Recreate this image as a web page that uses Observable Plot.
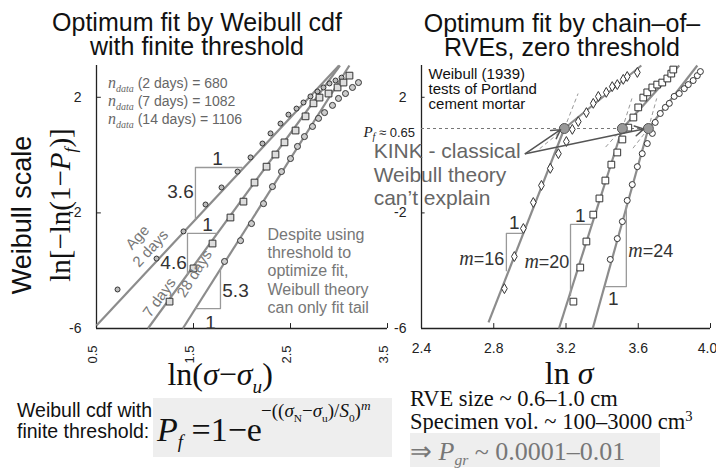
<!DOCTYPE html>
<html><head><meta charset="utf-8">
<script src="https://cdn.jsdelivr.net/npm/d3@7"></script>
<script src="https://cdn.jsdelivr.net/npm/@observablehq/plot@0.6"></script>
<style>
body{margin:0;background:#fff;}
#wrap{position:relative;width:716px;height:473px;overflow:hidden;font-family:"Liberation Sans",Arial,sans-serif;color:#111;}
#wrap svg{position:absolute;left:0;top:0;}
.abs{position:absolute;white-space:nowrap;line-height:1;}
.serif{font-family:"Liberation Serif","Times New Roman",serif;}
sub,sup{line-height:0;}
</style></head><body><div id="wrap"></div>
<script>
// ---------- data ----------
const leftXTicks = [0.5, 1.5, 2.5, 3.5];
const rightXTicks = [2.4, 2.8, 3.2, 3.6, 4.0];
const yTicks = [2, -2, -6];

const days2 = [[0.717,-4.65],[1.119,-3.58],[1.397,-2.64],[1.624,-1.71],[1.789,-1.12],[1.954,-0.57],[2.088,-0.08],[2.211,0.40],[2.294,0.75],[2.397,1.09],[2.479,1.40],[2.562,1.61],[2.634,1.82],[2.706,2.03],[2.778,2.20],[2.840,2.34],[2.902,2.48],[2.964,2.58],[3.026,2.68]];
const days7 = [[1.253,-5.07],[1.5,-3.92],[1.696,-3.06],[1.881,-2.16],[2.015,-1.61],[2.129,-0.95],[2.253,-0.40],[2.345,0.02],[2.438,0.44],[2.552,0.85],[2.655,1.34],[2.737,1.79],[2.799,1.99],[2.892,2.13],[2.985,2.34],[3.046,2.51],[3.108,2.75]];
const days28 = [[1.820,-3.68],[1.985,-2.96],[2.098,-2.37],[2.222,-1.68],[2.314,-1.09],[2.407,-0.57],[2.5,-0.12],[2.572,0.30],[2.644,0.64],[2.727,0.99],[2.789,1.27],[2.851,1.47],[2.933,1.72],[2.995,1.96],[3.067,2.13],[3.139,2.34],[3.201,2.51]];
const fitLeft = [
  {age:"2 days", x1:0.5, y1:-5.9, x2:3.0, y2:3.1},
  {age:"7 days", x1:1.03, y1:-6, x2:3.01, y2:3.1},
  {age:"28 days", x1:1.39, y1:-6, x2:3.107, y2:3.1}
];
const triLeft = [
  [[2.0,-0.43],[1.52,-0.43],[1.52,-2.2]],
  [[1.745,-2.71],[1.438,-2.71],[1.438,-4.12]],
  [[1.778,-3.94],[1.778,-5.31],[1.52,-5.31]]
];
const slopeLeft = [
  {x:1.747,y:-0.12,t:"1"},{x:1.366,y:-1.29,t:"3.6"},
  {x:1.644,y:-2.40,t:"1"},{x:1.294,y:-3.72,t:"4.6"},
  {x:1.933,y:-4.69,t:"5.3"},{x:1.675,y:-5.79,t:"1"}
];
const ageLabels = [
  {x:0.923,y:-2.85,t:"Age",r:-47},{x:1.057,y:-3.23,t:"2 days",r:-47},
  {x:1.149,y:-4.93,t:"7 days",r:-54},{x:1.510,y:-4.10,t:"28 days",r:-58}
];
const nData = [["2 days",680],["7 days",1082],["14 days",1106]];
const nDataY = [2.48, 1.85, 1.23];

const m16 = [[2.859,-4.62],[2.914,-3.51],[2.964,-2.54],[3.019,-1.64],[3.064,-1.05],[3.113,-0.46],[3.158,0.05],[3.202,0.47],[3.235,0.89],[3.268,1.16],[3.313,1.47],[3.351,1.79],[3.379,2.03],[3.423,2.17],[3.456,2.37],[3.484,2.44],[3.517,2.62],[3.539,2.72],[3.595,2.86]];
const m20 = [[3.241,-5.07],[3.279,-3.89],[3.313,-2.99],[3.351,-2.06],[3.385,-1.50],[3.418,-0.88],[3.451,-0.33],[3.484,0.09],[3.512,0.54],[3.545,0.95],[3.573,1.30],[3.600,1.65],[3.628,1.99],[3.650,2.17],[3.678,2.34],[3.705,2.44],[3.733,2.51],[3.761,2.65],[3.783,2.82],[3.794,2.96]];
const m24 = [[3.445,-3.61],[3.484,-2.89],[3.512,-2.30],[3.539,-1.57],[3.567,-1.02],[3.595,-0.40],[3.622,0.05],[3.650,0.40],[3.678,0.75],[3.694,1.13],[3.722,1.44],[3.750,1.65],[3.772,1.79],[3.799,2.03],[3.827,2.13],[3.855,2.30],[3.877,2.44],[3.904,2.58],[3.927,2.75],[3.944,2.89]];
const fitRight = [
  {x1:2.771,y1:-5.79,x2:3.191,y2:0.92},{x1:3.191,y1:0.92,x2:3.617,y2:3.1},
  {x1:3.161,y1:-6,x2:3.512,y2:0.92},{x1:3.512,y1:0.92,x2:3.827,y2:3.1},
  {x1:3.348,y1:-6,x2:3.656,y2:0.92},{x1:3.656,y1:0.92,x2:3.927,y2:3.1}
];
const dashRight = [
  {x1:3.191,y1:0.92,x2:3.267,y2:2.13},{x1:3.512,y1:0.92,x2:3.565,y2:1.96},{x1:3.656,y1:0.92,x2:3.702,y2:1.96},
  {x1:3.191,y1:0.92,x2:3.05,y2:0.2},{x1:3.512,y1:0.92,x2:3.408,y2:0.2},{x1:3.656,y1:0.92,x2:3.566,y2:0.2}
];
const kinks = [[3.191,0.92],[3.512,0.92],[3.656,0.92]];
const kinkLevel = 0.92;
const arrows = [{x1:2.975,y1:0.05,x2:3.17,y2:0.88},{x1:2.975,y1:0.05,x2:3.63,y2:0.90}];
const triRight = [
  [[2.964,-2.71],[2.870,-2.71],[2.870,-4.0]],
  [[3.343,-2.40],[3.225,-2.40],[3.225,-4.85]],
  [[3.534,-1.74],[3.534,-4.55],[3.413,-4.55]]
];
const slopeRight = [{x:2.914,y:-2.33,t:"1"},{x:3.279,y:-2.09,t:"1"},{x:3.462,y:-4.96,t:"1"}];
const mLabels = [{x:2.737,y:-3.58,m:16},{x:3.097,y:-3.68,m:20},{x:3.672,y:-3.30,m:24}];

// ---------- styles ----------
const AX = "#222", FIT = "#8c8c8c", TRI = "#999", PT = "#333";
const sans = "Liberation Sans, Arial, sans-serif";

function frame(xmin, ticks) {
  return [
    Plot.ruleX([xmin], {stroke: AX, strokeWidth: 1.3}),
    Plot.ruleY([-6], {stroke: AX, strokeWidth: 1.3}),
    Plot.ruleX(ticks, {x: d => d, y1: -6, y2: -5.83, stroke: AX}),
    Plot.ruleY(yTicks, {y: d => d, x1: xmin, x2: xmin + (ticks[1]-ticks[0]) * 0.05, stroke: AX})
  ];
}

const L = Plot.plot({
  width: 716, height: 473,
  marginLeft: 96, marginRight: 329, marginTop: 65, marginBottom: 145,
  x: {domain: [0.5, 3.5], axis: null},
  y: {domain: [-6, 3.1], axis: null},
  style: {background: "transparent", fontFamily: sans, overflow: "visible"},
  marks: [
    ...frame(0.5, leftXTicks),
    Plot.text(leftXTicks, {x: d => d, text: d => String(d), frameAnchor: "bottom", dy: 26, rotate: -90, fontSize: 13, fill: AX}),
    Plot.text(yTicks, {y: d => d, text: d => String(d), frameAnchor: "left", dx: -15, textAnchor: "end", fontSize: 14, fill: AX}),
    Plot.link(fitLeft, {x1: "x1", y1: "y1", x2: "x2", y2: "y2", stroke: FIT, strokeWidth: 2.2}),
    ...triLeft.map(t => Plot.line(t, {x: d => d[0], y: d => d[1], stroke: TRI, strokeWidth: 1.3, curve: "linear"})),
    Plot.dot(days2, {x: d => d[0], y: d => d[1], r: 2.5, stroke: PT, fill: "#bbb", strokeWidth: 1}),
    Plot.dot(days7, {x: d => d[0], y: d => d[1], symbol: "square", r: 3.8, stroke: PT, fill: "#ddd", strokeWidth: 1}),
    Plot.dot(days28, {x: d => d[0], y: d => d[1], r: 3, stroke: PT, fill: "#ccc", strokeWidth: 1}),
    Plot.text(slopeLeft, {x: "x", y: "y", text: "t", fontSize: 19, fill: "#333"}),
    Plot.text(ageLabels, {x: "x", y: "y", text: "t", rotate: d => d.r, fontSize: 15, fill: "#777"}),
    Plot.text(["Despite using\nthreshold to\noptimize fit,\nWeibull theory\ncan only fit tail"], {x: 2.263, y: -2.47, text: d => d, textAnchor: "start", lineAnchor: "top", lineHeight: 1.15, fontSize: 16, fill: "#777"})
  ]
});

const R = Plot.plot({
  width: 716, height: 473,
  marginLeft: 421, marginRight: 6, marginTop: 65, marginBottom: 145,
  x: {domain: [2.4, 4.0], axis: null},
  y: {domain: [-6, 3.1], axis: null},
  style: {background: "transparent", fontFamily: sans, overflow: "visible"},
  marks: [
    ...frame(2.4, rightXTicks),
    Plot.text(rightXTicks.slice(0, -1), {x: d => d, text: d => d.toFixed(1), frameAnchor: "bottom", dy: 24, fontSize: 14, fill: AX}),
    Plot.text(rightXTicks.slice(-1), {x: d => d, text: d => d.toFixed(1), frameAnchor: "bottom", dy: 24, dx: -3, fontSize: 14, fill: AX}),
    Plot.text(yTicks, {y: d => d, text: d => String(d), frameAnchor: "left", dx: -15, textAnchor: "end", fontSize: 14, fill: AX}),
    Plot.ruleY([kinkLevel], {x1: 2.4, x2: kinks[2][0], stroke: "#777", strokeDasharray: "3,3", strokeWidth: 1}),
    Plot.link(dashRight, {x1: "x1", y1: "y1", x2: "x2", y2: "y2", stroke: "#999", strokeWidth: 1, strokeDasharray: "4,3"}),
    Plot.link(fitRight, {x1: "x1", y1: "y1", x2: "x2", y2: "y2", stroke: FIT, strokeWidth: 2.2}),
    ...triRight.map(t => Plot.line(t, {x: d => d[0], y: d => d[1], stroke: TRI, strokeWidth: 1.3})),
    Plot.dot(m16, {x: d => d[0], y: d => d[1], symbol: "diamond", r: 3, stroke: PT, fill: "#fff", strokeWidth: 1}),
    Plot.dot(m20, {x: d => d[0], y: d => d[1], symbol: "square", r: 3.8, stroke: PT, fill: "#fff", strokeWidth: 1}),
    Plot.dot(m24, {x: d => d[0], y: d => d[1], r: 3, stroke: PT, fill: "#fff", strokeWidth: 1}),
    Plot.dot(kinks, {x: d => d[0], y: d => d[1], r: 5, fill: "#999", stroke: "#555", strokeWidth: 1}),
    Plot.arrow(arrows, {x1: "x1", y1: "y1", x2: "x2", y2: "y2", stroke: "#555", strokeWidth: 1.5, headLength: 10}),
    Plot.text(slopeRight, {x: "x", y: "y", text: "t", fontSize: 19, fill: "#333"}),
    Plot.text(["Weibull (1939)\ntests of Portland\ncement mortar"], {x: 2.439, y: 3.0, text: d => d, textAnchor: "start", lineAnchor: "top", lineHeight: 1.0, fontSize: 15, fill: "#111"}),
    Plot.text(["KINK - classical\nWeibull theory\ncan\u2019t explain"], {x: 2.135, y: 0.47, text: d => d, textAnchor: "start", lineAnchor: "top", lineHeight: 1.12, fontSize: 21, fill: "#666"})
  ]
});

const wrap = document.getElementById("wrap");
wrap.appendChild(L);
wrap.appendChild(R);

function put(html, left, top, style = "") {
  const d = document.createElement("div");
  d.className = "abs";
  d.style.cssText = `left:${left}px;top:${top}px;${style}`;
  d.innerHTML = html;
  wrap.appendChild(d);
  return d;
}
const C = "transform:translate(-50%,-50%);";
const Lx = L.scale("x").apply, Ly = L.scale("y").apply;
const Rx = R.scale("x").apply, Ry = R.scale("y").apply;

// titles
put("Optimum fit by Weibull cdf", 197, 22, C + "font-size:25px;");
put("with finite threshold", 197, 46, C + "font-size:25px;");
put("Optimum fit by chain\u2013of\u2013", 562, 23, C + "font-size:25px;");
put("RVEs, zero threshold", 562, 47, C + "font-size:25px;");

// y axis titles
put("Weibull scale", 22, 215, "transform:translate(-50%,-50%) rotate(-90deg);font-size:27px;");
put(`<span class="serif">ln[\u2212ln(1\u2212<i>P</i><sub style="font-size:0.6em"><i>f</i></sub>)]</span>`, 60, 205, "transform:translate(-50%,-50%) rotate(-90deg);font-size:29px;");

// x axis titles
put(`<span class="serif">ln(<i>\u03c3</i>\u2212<i>\u03c3</i><sub style="font-size:0.6em"><i>u</i></sub>)</span>`, Lx(1.78), 375, C + "font-size:32px;line-height:0.8;");
put(`<span class="serif">ln <i>\u03c3</i></span>`, Rx(3.22), 373, C + "font-size:32px;line-height:0.7;");

// n_data notes
nData.forEach((d, i) => {
  put(`<i class="serif" style="font-size:16px">n</i><sub class="serif" style="font-size:10px;font-style:italic">data</sub> (${d[0]}) = ${d[1]}`, Lx(0.624), Ly(nDataY[i]), "transform:translateY(-50%);font-size:14px;color:#666;");
});

// P_f ≈ 0.65
put(`<i class="serif" style="font-size:15px">P</i><sub class="serif" style="font-size:10px;font-style:italic">f</sub> \u2248 0.65`, Rx(2.367), Ly(kinkLevel) + 4, "transform:translate(-100%,-50%);font-size:13px;color:#222;");

// m labels
mLabels.forEach(d => {
  put(`<i class="serif" style="font-size:20px">m</i>=${d.m}`, Rx(d.x), Ry(d.y), C + "font-size:18px;color:#333;");
});

// bottom-left formula
put("Weibull cdf with<br>finite threshold:", 17, 400, "font-size:19.5px;line-height:21px;");
put("", 153, 398, "width:239px;height:59px;background:#eeeeee;");
put(`<span class="serif"><i>P</i><sub style="font-size:0.55em;vertical-align:-0.35em"><i>f</i></sub> =1\u2212e</span>`, 157, 412, "font-size:34px;");
put(`<span class="serif">\u2212((<i>\u03c3</i><sub style="font-size:0.6em">N</sub>\u2212<i>\u03c3</i><sub style="font-size:0.6em">u</sub>)/<i>S</i><sub style="font-size:0.6em">0</sub>)<sup style="font-size:0.7em"><i>m</i></sup></span>`, 261, 401, "font-size:19px;");

// bottom-right notes
put(`<span class="serif">RVE size ~ 0.6\u20131.0 cm</span>`, 410, 390, "font-size:22.5px;line-height:0.8;");
put(`<span class="serif">Specimen vol. ~ 100\u20133000 cm<sup style="font-size:0.65em;vertical-align:0.55em">3</sup></span>`, 410, 413, "font-size:22.5px;line-height:0.8;");
put("", 410, 433, "width:250px;height:34px;background:#eeeeee;");
put(`<span class="serif">\u21d2 <i>P</i><sub style="font-size:0.6em;vertical-align:-0.35em"><i>gr</i></sub> ~ 0.0001\u20130.01</span>`, 410, 438, "font-size:26px;color:#777;");
</script></body></html>
